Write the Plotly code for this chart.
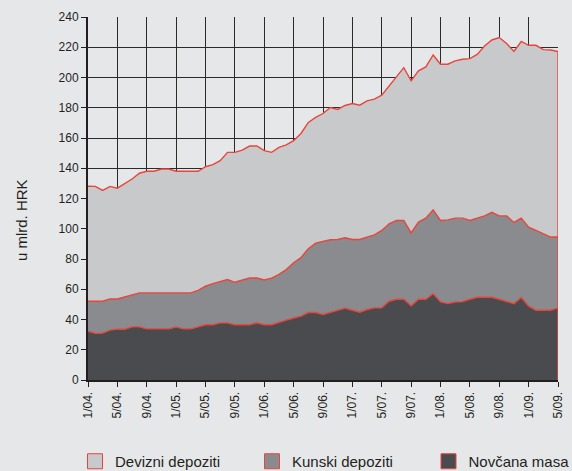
import plotly.graph_objects as go

# Months Jan 2004 .. May 2009 (category labels)
months = [f"{m}/{y:02d}." for y in range(4, 10) for m in range(1, 13)][:65]
tick_labels = ["1/04.", "5/04.", "9/04.", "1/05.", "5/05.", "9/05.", "1/06.", "5/06.",
               "9/06.", "1/07.", "5/07.", "9/07.", "1/08.", "5/08.", "9/08.", "1/09.", "5/09."]

novcana_masa = [32.3, 30.8, 31.0, 33.0, 33.6, 33.6, 35.1, 35.1, 33.8, 33.8, 33.8, 33.8, 35.1,
                33.8, 33.8, 35.1, 36.5, 36.5, 37.8, 37.8, 36.5, 36.5, 36.5, 37.8, 36.5, 36.5,
                37.8, 39.6, 41.0, 42.2, 44.6, 44.6, 43.3, 44.6, 46.1, 47.5, 46.1, 44.8, 46.6,
                47.7, 47.7, 52.1, 53.4, 53.4, 49.0, 53.4, 53.4, 57.1, 51.6, 50.5, 51.6, 51.8,
                53.4, 54.7, 54.7, 54.7, 53.4, 52.1, 50.5, 54.5, 48.8, 46.1, 46.1, 46.1, 47.7]
kunski_depoziti = [19.8, 21.3, 21.1, 20.6, 20.0, 21.3, 21.4, 22.5, 23.8, 23.8, 23.8, 23.8, 22.5,
                   23.8, 23.8, 24.2, 25.5, 27.2, 27.0, 28.6, 28.1, 29.4, 30.9, 29.6, 29.6, 30.9,
                   32.1, 33.4, 36.5, 38.7, 42.2, 45.9, 48.5, 48.1, 46.8, 46.5, 46.8, 48.1, 47.9,
                   48.3, 51.2, 51.2, 52.1, 52.1, 48.3, 51.0, 53.6, 55.4, 53.9, 55.4, 55.4, 55.2,
                   52.1, 52.3, 53.8, 56.2, 55.1, 56.4, 53.7, 52.5, 52.3, 52.8, 50.6, 48.4, 46.8]
devizni_depoziti = [76.0, 75.9, 73.2, 74.4, 73.2, 74.8, 76.4, 79.1, 80.4, 80.4, 81.9, 81.9, 80.4,
                    80.4, 80.4, 78.7, 79.0, 78.7, 80.2, 84.1, 85.9, 86.1, 87.3, 87.3, 85.5, 83.1,
                    83.9, 82.4, 80.7, 82.1, 83.5, 83.1, 84.4, 87.5, 86.0, 87.5, 89.9, 88.8, 90.1,
                    89.7, 89.4, 91.2, 95.1, 101.0, 100.5, 100.0, 100.0, 102.4, 103.3, 102.9, 104.0,
                    105.1, 107.0, 108.3, 112.3, 113.9, 117.9, 114.0, 113.0, 116.8, 120.2, 122.4,
                    121.7, 123.7, 122.7]

RED = "#e8453c"
BG = "#e6e7e9"
C_DEV = "#c8c9cb"
C_KUN = "#8a8b8e"
C_NOV = "#4a4b4e"

fig = go.Figure()
series = [("Novčana masa", novcana_masa, C_NOV),
          ("Kunski depoziti", kunski_depoziti, C_KUN),
          ("Devizni depoziti", devizni_depoziti, C_DEV)]
for name, vals, col in series:
    fig.add_trace(go.Scatter(x=months, y=vals, name=name, mode="lines", stackgroup="one",
                             line=dict(color=RED, width=1.4), fillcolor=col,
                             showlegend=False, hoverinfo="skip"))

total_last = novcana_masa[-1] + kunski_depoziti[-1] + devizni_depoziti[-1]
fig.add_trace(go.Scatter(x=[months[-1], months[-1]], y=[0, total_last], mode="lines",
                         line=dict(color=RED, width=1.4), showlegend=False, hoverinfo="skip"))

legend_ids = ["legend", "legend2", "legend3"]
legend_x = [75, 252, 428.5]
for lid, (name, vals, col) in zip(legend_ids, reversed(series)):
    fig.add_trace(go.Scatter(x=[None], y=[None], name=name, mode="markers", legend=lid,
                             marker=dict(symbol="square", size=15, color=col,
                                         line=dict(color=RED, width=1))))

layout_legends = {}
for lid, lx in zip(legend_ids, legend_x):
    layout_legends[lid] = dict(orientation="h", xref="container", yref="container",
                               x=lx / 572, y=1 - 445 / 471, xanchor="left", yanchor="top",
                               font=dict(size=15, color="#231f20"),
                               bgcolor="rgba(0,0,0,0)")

fig.update_layout(
    width=572, height=471,
    margin=dict(l=88, r=7, t=17, b=91),
    paper_bgcolor=BG, plot_bgcolor=BG,
    font=dict(family="Liberation Sans, Arial, sans-serif", size=12, color="#231f20"),
    showlegend=True,
    annotations=[dict(text="u mlrd. HRK", textangle=-90, xref="paper", yref="paper",
                      x=-0.143, y=0.44, xanchor="center", yanchor="middle",
                      showarrow=False, font=dict(size=15, color="#231f20"))],
    **layout_legends,
)
fig.update_xaxes(type="category", range=[0, len(months) - 1],
                 tickmode="array", tickvals=tick_labels, ticktext=tick_labels,
                 tickangle=-90, tickfont=dict(size=12),
                 showgrid=True, gridcolor="#2b2b2b", gridwidth=1,
                 showline=True, linecolor="#231f20", linewidth=2,
                 ticks="outside", ticklen=5, tickcolor="#231f20", zeroline=False)
fig.update_yaxes(range=[0, 240], dtick=20, tickfont=dict(size=12),
                 showgrid=True, gridcolor="#2b2b2b", gridwidth=1,
                 showline=True, linecolor="#231f20", linewidth=2,
                 ticks="outside", ticklen=5, tickcolor="#231f20", zeroline=False)

fig.write_html("out.html", config={"displayModeBar": False},
               post_script="document.body.style.margin='0';")
